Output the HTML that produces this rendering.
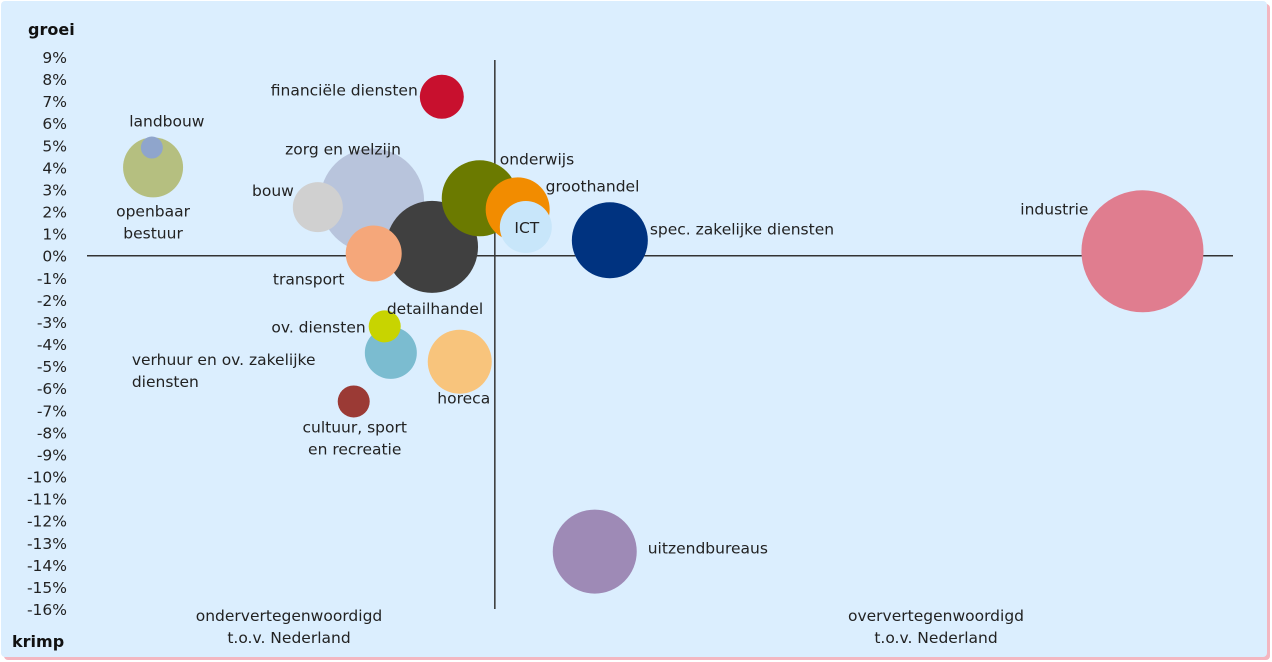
<!DOCTYPE html>
<html><head><meta charset="utf-8"><style>
html,body{margin:0;padding:0;background:#fff;}
svg{display:block;font-family:"DejaVu Sans","Liberation Sans",sans-serif;}
</style></head><body>
<svg id="chart" width="1272" height="662" viewBox="0 0 1272 662">
<rect x="4" y="4" width="1266" height="656" rx="4" fill="#f4b6c0"/>
<rect x="1" y="1" width="1266" height="656" rx="4" fill="#dbeefe"/>
<g id="axes"></g><g id="bubbles"></g><g id="labels"></g>
<text x="28" y="35" font-size="16" font-weight="bold" fill="#111">groei</text>
<text x="12" y="647" font-size="16" font-weight="bold" fill="#111">krimp</text>
<text x="289" y="621" font-size="15.5" fill="#222" text-anchor="middle"><tspan x="289">ondervertegenwoordigd</tspan><tspan x="289" dy="22">t.o.v. Nederland</tspan></text>
<text x="936" y="621" font-size="15.5" fill="#222" text-anchor="middle"><tspan x="936">oververtegenwoordigd</tspan><tspan x="936" dy="22">t.o.v. Nederland</tspan></text>
</svg>
<script>
const sectors=["financiële diensten","landbouw","openbaar bestuur","zorg en welzijn","bouw","onderwijs","groothandel","ICT","spec. zakelijke diensten","industrie","transport","detailhandel","ov. diensten","verhuur en ov. zakelijke diensten","horeca","cultuur, sport en recreatie","uitzendbureaus"];
const xValues=[0.870,0.159,0.162,0.699,0.566,0.963,1.056,1.076,1.282,2.588,0.703,0.846,0.730,0.745,0.914,0.654,1.245];
const growth=[7.2,4.9,4.0,2.5,2.2,2.6,2.1,1.3,0.7,0.2,0.1,0.4,-3.2,-4.4,-4.8,-6.6,-13.4];
const sizes=[22,11,30,52,25,38,32,26,38,61,28,46,16,26,32,16,42];
const colors=["#c8102e","#8fa5cc","#b5bf80","#b8c4dc","#d0d0d0","#6b7a00","#f28c00","#c8e6fa","#003380","#e07d8f","#f5a77a","#404040","#c8d400","#7bbcd0","#f8c47c","#9b3a35","#9e8ab6"];
const yTicks=[9,8,7,6,5,4,3,2,1,0,-1,-2,-3,-4,-5,-6,-7,-8,-9,-10,-11,-12,-13,-14,-15,-16];
// layout (label placement, not data)
const labelLines=[["financiële diensten"],["landbouw"],["openbaar","bestuur"],["zorg en welzijn"],["bouw"],["onderwijs"],["groothandel"],["ICT"],["spec. zakelijke diensten"],["industrie"],["transport"],["detailhandel"],["ov. diensten"],["verhuur en ov. zakelijke","diensten"],["horeca"],["cultuur, sport","en recreatie"],["uitzendbureaus"]];
const labelDx=[-24,15,0,-29,-24,20,28,1,40,-54,-65,3,-19,-259,4,1,53];
const labelDy=[-1,-21,49,-46,-11,-34,-18,6,-6,-37,31,67,6,12,42,31,2];
const labelAnchor=["end","middle","middle","middle","end","start","start","middle","start","end","middle","middle","end","start","middle","middle","start"];
const X0=87,X1=1233,XMAX=2.81,Y9=57,PER=22.08;
const xs=v=>X0+v*(X1-X0)/XMAX;
const ys=v=>Y9+(9-v)*PER;
const NS="http://www.w3.org/2000/svg";
const axes=document.getElementById("axes"),bub=document.getElementById("bubbles"),lab=document.getElementById("labels");
yTicks.forEach(t=>{const e=document.createElementNS(NS,"text");


e.setAttribute("x",67);e.setAttribute("y",ys(t)+6);e.setAttribute("text-anchor","end");e.setAttribute("font-size","15.5");e.setAttribute("fill","#222");e.textContent=t+"%";axes.appendChild(e);});
const h=document.createElementNS(NS,"line");


h.setAttribute("x1",X0);h.setAttribute("x2",X1);h.setAttribute("y1",ys(0));h.setAttribute("y2",ys(0));h.setAttribute("stroke","#333");h.setAttribute("stroke-width","1.5");axes.appendChild(h);
const v=document.createElementNS(NS,"line");


v.setAttribute("x1",xs(1));v.setAttribute("x2",xs(1));v.setAttribute("y1",60);v.setAttribute("y2",609);v.setAttribute("stroke","#333");v.setAttribute("stroke-width","1.5");axes.appendChild(v);
const order=sectors.map((s,i)=>i).sort((a,b)=>sizes[b]-sizes[a]);
order.forEach(i=>{const c=document.createElementNS(NS,"circle");


c.setAttribute("cx",xs(xValues[i]));c.setAttribute("cy",ys(growth[i]));c.setAttribute("r",sizes[i]);c.setAttribute("fill",colors[i]);bub.appendChild(c);});
sectors.forEach((s,i)=>{const t=document.createElementNS(NS,"text");


const x=xs(xValues[i])+labelDx[i],y=ys(growth[i])+labelDy[i];
t.setAttribute("x",x);t.setAttribute("y",y);t.setAttribute("text-anchor",labelAnchor[i]);t.setAttribute("font-size","15.5");t.setAttribute("fill","#222");
labelLines[i].forEach((l,k)=>{const sp=document.createElementNS(NS,"tspan");sp.setAttribute("x",x);if(k)sp.setAttribute("dy",22);sp.textContent=l;t.appendChild(sp);});
lab.appendChild(t);});
</script>
</body></html>
